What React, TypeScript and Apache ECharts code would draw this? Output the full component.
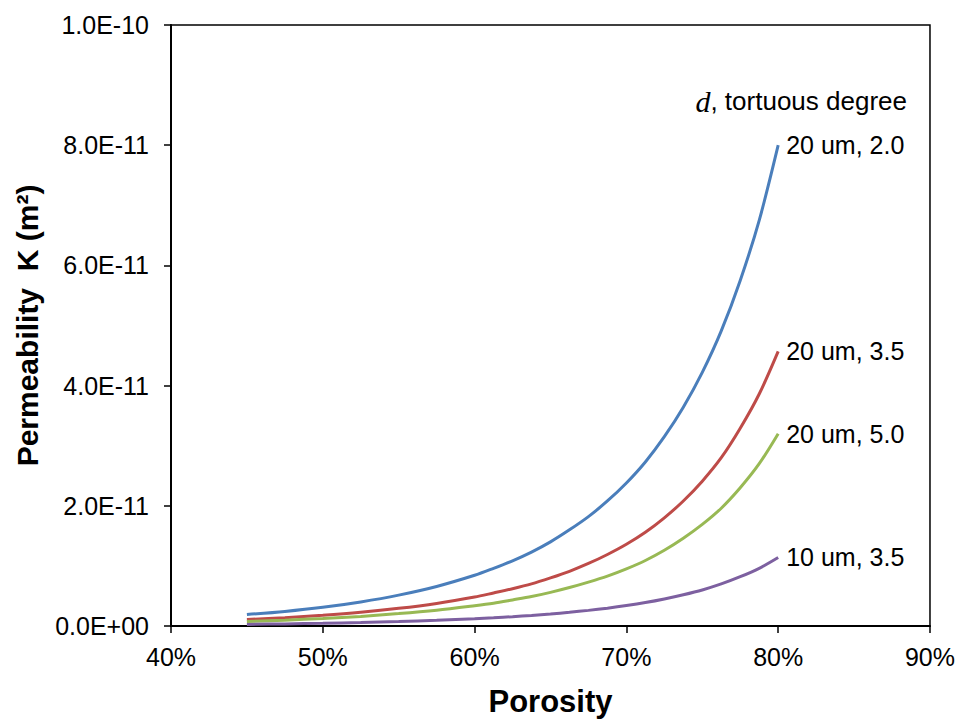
import React, { useEffect, useRef } from "react";
import * as echarts from "echarts";

const porosity = [0.45, 0.475, 0.5, 0.525, 0.55, 0.575, 0.6, 0.6125, 0.625, 0.6375, 0.65, 0.6625, 0.675, 0.6875, 0.7, 0.7125, 0.725, 0.7375, 0.75, 0.7625, 0.775, 0.7875, 0.8];
const k20_20 = [0.19, 0.243, 0.312, 0.401, 0.514, 0.658, 0.844, 0.96, 1.085, 1.23, 1.40, 1.60, 1.82, 2.08, 2.38, 2.73, 3.15, 3.64, 4.22, 4.91, 5.75, 6.75, 8.0];
const k20_35 = [0.108, 0.139, 0.179, 0.229, 0.294, 0.376, 0.482, 0.55, 0.62, 0.70, 0.80, 0.91, 1.04, 1.19, 1.36, 1.56, 1.80, 2.08, 2.41, 2.80, 3.29, 3.86, 4.57];
const k20_50 = [0.075, 0.097, 0.125, 0.160, 0.206, 0.263, 0.338, 0.38, 0.434, 0.49, 0.56, 0.64, 0.73, 0.83, 0.95, 1.09, 1.26, 1.46, 1.69, 1.96, 2.30, 2.70, 3.2];
const k10_35 = [0.027, 0.035, 0.045, 0.057, 0.073, 0.094, 0.121, 0.137, 0.155, 0.176, 0.20, 0.228, 0.26, 0.297, 0.34, 0.39, 0.45, 0.52, 0.60, 0.70, 0.82, 0.96, 1.14];
const seriesNames = ["20 um, 2.0", "20 um, 3.5", "20 um, 5.0", "10 um, 3.5"];
const seriesColors = ["#4A7EBB", "#BE4B48", "#98B954", "#7D60A0"];
const SCALE = 1e-11;

const fmtExp = (v: number) => {
  const s = v.toExponential(1).toUpperCase();
  const m = s.match(/^(-?[\d.]+)E([+-])(\d+)$/);
  if (!m) return s;
  return `${m[1]}E${m[2]}${m[3].padStart(2, "0")}`;
};

export default function App() {
  const ref = useRef<HTMLDivElement>(null);
  useEffect(() => {
    if (!ref.current) return;
    const chart = echarts.init(ref.current, null, { renderer: "svg" });
    const all = [k20_20, k20_35, k20_50, k10_35];
    const font = "'Liberation Sans', Arial, sans-serif";
    chart.setOption({
      animation: false,
      backgroundColor: "#fff",
      grid: {
        left: 171,
        top: 25,
        right: 27,
        bottom: 89,
        show: true,
        borderColor: "#000",
        borderWidth: 1.5,
        containLabel: false,
      },
      xAxis: {
        type: "value",
        min: 0.4,
        max: 0.9,
        interval: 0.1,
        name: "Porosity",
        nameLocation: "middle",
        nameGap: 60,
        nameTextStyle: { fontFamily: font, fontSize: 31, fontWeight: "bold", color: "#000" },
        axisLine: { show: true, lineStyle: { color: "#000", width: 2 } },
        axisTick: { show: true, length: 7, lineStyle: { color: "#000", width: 1.5 } },
        splitLine: { show: false },
        axisLabel: {
          color: "#000",
          fontFamily: font,
          fontSize: 25,
          margin: 18,
          formatter: (v: number) => `${Math.round(v * 100)}%`,
        },
      },
      yAxis: {
        type: "value",
        min: 0,
        max: 1e-10,
        interval: 2e-11,
        name: "Permeability  K (m²)",
        nameLocation: "middle",
        nameGap: 129,
        nameTextStyle: { fontFamily: font, fontSize: 30, fontWeight: "bold", color: "#000" },
        axisLine: { show: true, lineStyle: { color: "#000", width: 2 } },
        axisTick: { show: true, length: 7, lineStyle: { color: "#000", width: 1.5 } },
        splitLine: { show: false },
        axisLabel: {
          color: "#000",
          fontFamily: font,
          fontSize: 25,
          margin: 22,
          formatter: (v: number) => fmtExp(v),
        },
      },
      graphic: [
        {
          type: "text",
          x: 907,
          y: 101,
          style: {
            text: "{i|d}{n|, tortuous degree}",
            align: "right",
            verticalAlign: "middle",
            rich: {
              i: { fontFamily: "'Liberation Serif', 'Times New Roman', serif", fontStyle: "italic", fontSize: 30, fill: "#000" },
              n: { fontFamily: font, fontSize: 26, fill: "#000" },
            },
          },
        },
      ],
      series: all.map((vals, i) => ({
        name: seriesNames[i],
        type: "line",
        data: porosity.map((p, j) => [p, vals[j] * SCALE]),
        smooth: 0.3,
        showSymbol: false,
        symbol: "none",
        lineStyle: { color: seriesColors[i], width: 3 },
        itemStyle: { color: seriesColors[i] },
        endLabel: {
          show: true,
          formatter: () => seriesNames[i],
          color: "#000",
          fontFamily: font,
          fontSize: 25,
          distance: 8,
        },
      })),
    });
    return () => chart.dispose();
  }, []);
  return (
    <div
      ref={ref}
      style={{ position: "fixed", left: 0, top: 0, width: 958, height: 722, overflow: "hidden" }}
    />
  );
}
